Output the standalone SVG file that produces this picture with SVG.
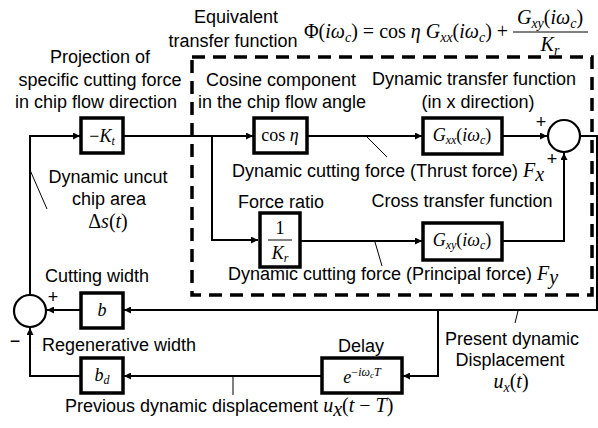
<svg xmlns="http://www.w3.org/2000/svg" width="598" height="428" viewBox="0 0 598 428">
<defs>
<style>
.t{font-family:"Liberation Sans",Arial,sans-serif;font-size:18px;fill:#000}
.m{font-family:"Liberation Serif","Times New Roman",serif;font-size:18px;fill:#000}
.f{font-family:"Liberation Serif","Times New Roman",serif;font-size:20px;fill:#000}
.i{font-style:italic}
.box{fill:#fff;stroke:#000;stroke-width:3.5}
.ln{fill:none;stroke:#000;stroke-width:2}
.thin{fill:none;stroke:#000;stroke-width:1}
.dash{fill:none;stroke:#000;stroke-width:3.5;stroke-dasharray:13 8}
.sum{fill:#fff;stroke:#000;stroke-width:2.2}
</style>
<marker id="ah" viewBox="0 0 10 10" refX="10" refY="5" markerWidth="8" markerHeight="7" markerUnits="userSpaceOnUse" orient="auto"><path d="M0,0 L10,5 L0,10 z" fill="#000"/></marker>
</defs>
<rect x="0" y="0" width="598" height="428" fill="#fff"/>

<g id="equivalent-box">
<rect class="dash" x="192" y="57" width="400" height="238"/>
<text class="t" x="236" y="23" text-anchor="middle">Equivalent</text>
<text class="t" x="233" y="47" text-anchor="middle">transfer function</text>
<text class="f" x="304" y="38">Φ(<tspan class="i">iω</tspan><tspan class="i" font-size="14" dy="4">c</tspan><tspan dy="-4">) = cos </tspan><tspan class="i">η G</tspan><tspan class="i" font-size="14" dy="4">xx</tspan><tspan dy="-4">(</tspan><tspan class="i">iω</tspan><tspan class="i" font-size="14" dy="4">c</tspan><tspan dy="-4">) +</tspan></text>
<text class="f" x="550" y="24" text-anchor="middle"><tspan class="i">G</tspan><tspan class="i" font-size="14" dy="4">xy</tspan><tspan dy="-4">(</tspan><tspan class="i">iω</tspan><tspan class="i" font-size="14" dy="4">c</tspan><tspan dy="-4">)</tspan></text>
<line class="thin" x1="513" y1="32" x2="588" y2="32"/>
<text class="f" x="550" y="51" text-anchor="middle"><tspan class="i">K</tspan><tspan class="i" font-size="14" dy="4">r</tspan></text>
</g>

<g id="connectors">
<path class="ln" d="M30,295 V136 H80" marker-end="url(#ah)"/>
<path class="ln" d="M123,136 H253" marker-end="url(#ah)"/>
<path class="ln" d="M212,136 V240 H258" marker-end="url(#ah)"/>
<path class="ln" d="M307,136 H422" marker-end="url(#ah)"/>
<path class="ln" d="M502,136 H547" marker-end="url(#ah)"/>
<path class="ln" d="M300,241 H422" marker-end="url(#ah)"/>
<path class="ln" d="M502,241 H564 V153" marker-end="url(#ah)"/>
<path class="ln" d="M580,136 H597 V310 H124" marker-end="url(#ah)"/>
<path class="ln" d="M81,310 H47" marker-end="url(#ah)"/>
<path class="ln" d="M438,310 V376 H403" marker-end="url(#ah)"/>
<path class="ln" d="M322,376 H124" marker-end="url(#ah)"/>
<path class="ln" d="M81,376 H30 V328" marker-end="url(#ah)"/>
<line class="thin" x1="30" y1="170" x2="47" y2="209"/>
<line class="thin" x1="366" y1="136" x2="387" y2="157"/>
<line class="thin" x1="375" y1="242" x2="382" y2="266"/>
<line class="thin" x1="233" y1="377" x2="233" y2="395"/>
<line class="thin" x1="518" y1="311" x2="515" y2="323"/>
</g>

<g id="kt">
<rect class="box" x="81" y="118" width="42" height="35"/>
<text class="m" x="102" y="142" text-anchor="middle">−<tspan class="i">K</tspan><tspan class="i" font-size="12" dy="3">t</tspan></text>
<text class="t" x="100" y="63" text-anchor="middle">Projection of</text>
<text class="t" x="100" y="86" text-anchor="middle">specific cutting force</text>
<text class="t" x="96" y="108" text-anchor="middle">in chip flow direction</text>
</g>

<g id="cos">
<rect class="box" x="254" y="118" width="53" height="35"/>
<text class="m" x="280" y="141" text-anchor="middle">cos <tspan class="i">η</tspan></text>
<text class="t" x="281" y="86" text-anchor="middle">Cosine component</text>
<text class="t" x="282" y="108" text-anchor="middle">in the chip flow angle</text>
</g>

<g id="gxx">
<rect class="box" x="423" y="118" width="79" height="36"/>
<text class="m" x="462" y="141" text-anchor="middle"><tspan class="i">G</tspan><tspan class="i" font-size="12" dy="3">xx</tspan><tspan dy="-3">(</tspan><tspan class="i">iω</tspan><tspan class="i" font-size="12" dy="3">c</tspan><tspan dy="-3">)</tspan></text>
<text class="t" x="474" y="85" text-anchor="middle">Dynamic transfer function</text>
<text class="t" x="478" y="108" text-anchor="middle">(in x direction)</text>
</g>

<g id="kr">
<rect class="box" x="260" y="213" width="40" height="54"/>
<text class="m" x="280" y="234" text-anchor="middle">1</text>
<line class="thin" x1="268" y1="240" x2="292" y2="240"/>
<text class="m" x="280" y="259" text-anchor="middle"><tspan class="i">K</tspan><tspan class="i" font-size="12" dy="3">r</tspan></text>
<text class="t" x="238" y="208">Force ratio</text>
</g>

<g id="gxy">
<rect class="box" x="423" y="223" width="79" height="37"/>
<text class="m" x="462" y="246" text-anchor="middle"><tspan class="i">G</tspan><tspan class="i" font-size="12" dy="3">xy</tspan><tspan dy="-3">(</tspan><tspan class="i">iω</tspan><tspan class="i" font-size="12" dy="3">c</tspan><tspan dy="-3">)</tspan></text>
<text class="t" x="462" y="207" text-anchor="middle">Cross transfer function</text>
</g>

<g id="labels-forces">
<text class="t" x="232" y="177">Dynamic cutting force (Thrust force) <tspan class="f i">F</tspan><tspan class="f i" font-size="14" dy="4">x</tspan></text>
<text class="t" x="228" y="280">Dynamic cutting force (Principal force) <tspan class="f i">F</tspan><tspan class="f i" font-size="14" dy="4">y</tspan></text>
<text class="t" x="108" y="183" text-anchor="middle">Dynamic uncut</text>
<text class="t" x="109" y="205" text-anchor="middle">chip area</text>
<text class="f" x="108" y="228" text-anchor="middle">Δ<tspan class="i">s</tspan>(<tspan class="i">t</tspan>)</text>
</g>

<g id="sum1">
<circle class="sum" cx="564" cy="136" r="16"/>
<text class="t" x="541" y="128" text-anchor="middle" font-size="16">+</text>
<text class="t" x="552" y="165" text-anchor="middle" font-size="16">+</text>
</g>

<g id="sum2">
<circle class="sum" cx="30" cy="311" r="16"/>
<text class="t" x="53" y="303" text-anchor="middle" font-size="16">+</text>
<text class="t" x="15" y="347" text-anchor="middle" font-size="16">−</text>
</g>

<g id="b">
<rect class="box" x="81" y="293" width="42" height="35"/>
<text class="m i" x="102" y="316" text-anchor="middle">b</text>
<text class="t" x="97" y="282" text-anchor="middle">Cutting width</text>
</g>

<g id="bd">
<rect class="box" x="81" y="358" width="42" height="35"/>
<text class="m" x="102" y="381" text-anchor="middle"><tspan class="i">b</tspan><tspan class="i" font-size="12" dy="3">d</tspan></text>
<text class="t" x="42" y="351">Regenerative width</text>
</g>

<g id="delay">
<rect class="box" x="322" y="358" width="80" height="35"/>
<text class="m" x="362" y="383" text-anchor="middle"><tspan class="i">e</tspan><tspan font-size="12" dy="-7">−</tspan><tspan class="i" font-size="12">iω</tspan><tspan class="i" font-size="9" dy="2">c</tspan><tspan class="i" font-size="12" dy="-2">T</tspan></text>
<text class="t" x="361" y="352" text-anchor="middle">Delay</text>
</g>

<g id="bottom-labels">
<text class="t" x="65" y="412">Previous dynamic displacement <tspan class="f i">u</tspan><tspan class="f i" font-size="14" dy="4">x</tspan><tspan class="f" dy="-4">(</tspan><tspan class="f i">t</tspan><tspan class="f"> − </tspan><tspan class="f i">T</tspan><tspan class="f">)</tspan></text>
<text class="t" x="512" y="345" text-anchor="middle">Present dynamic</text>
<text class="t" x="510" y="366" text-anchor="middle">Displacement</text>
<text class="f" x="511" y="388" text-anchor="middle"><tspan class="i">u</tspan><tspan class="i" font-size="14" dy="4">x</tspan><tspan dy="-4">(</tspan><tspan class="i">t</tspan>)</text>
</g>
</svg>
